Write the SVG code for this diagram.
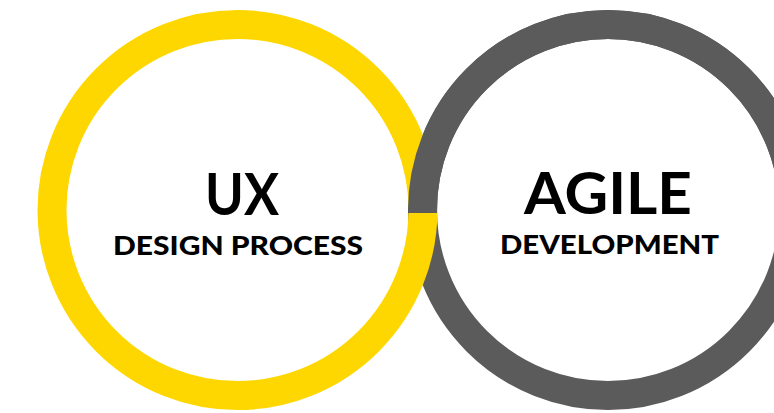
<svg xmlns="http://www.w3.org/2000/svg" width="774" height="413" viewBox="0 0 774 413">
  <style>
    .ring { fill: none; stroke-width: 29; }
    .yellow { stroke: #FFD700; }
    .gray { stroke: #5B5B5B; }
    .title { font-family: "Lato", "Liberation Sans", sans-serif; font-weight: 700; fill: #000; text-anchor: middle; }
    .big { font-size: 58px; }
    .small { font-size: 26px; font-weight: 900; }
  </style>
  <defs>
    <clipPath id="upper">
      <rect x="0" y="0" width="774" height="213"/>
    </clipPath>
  </defs>
  <rect x="0" y="0" width="774" height="413" fill="#FFFFFF"/>
  <g id="agile-ring">
    <circle class="ring gray" cx="608" cy="210" r="185.5"/>
  </g>
  <g id="ux-ring">
    <circle class="ring yellow" cx="237.5" cy="210" r="185.5"/>
  </g>
  <g id="agile-ring-overlap">
    <circle class="ring gray" cx="608" cy="210" r="185.5" clip-path="url(#upper)"/>
  </g>
  <g id="ux">
    <text class="title big" x="242" y="215" textLength="74" lengthAdjust="spacingAndGlyphs">UX</text>
    <text class="title small" x="238" y="255" textLength="250" lengthAdjust="spacingAndGlyphs">DESIGN PROCESS</text>
  </g>
  <g id="agile">
    <text class="title big" x="608" y="214" textLength="168" lengthAdjust="spacingAndGlyphs">AGILE</text>
    <text class="title small" x="609.5" y="254" textLength="219" lengthAdjust="spacingAndGlyphs">DEVELOPMENT</text>
  </g>
</svg>
